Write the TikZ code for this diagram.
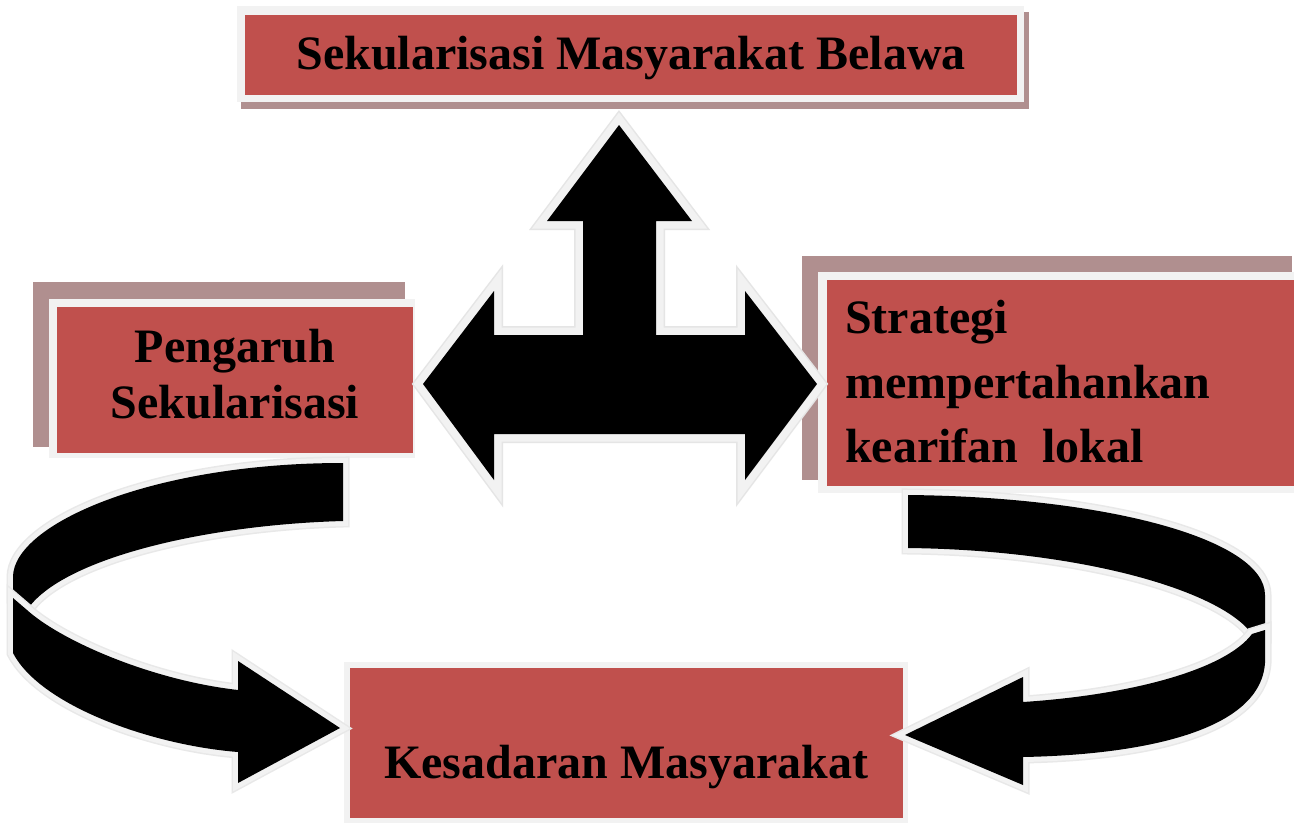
\documentclass[tikz,border=0pt]{standalone}
\usepackage{fontspec}
\setmainfont{Liberation Serif}
\definecolor{boxred}{HTML}{C0504D}
\definecolor{framegray}{HTML}{F2F2F2}
\definecolor{shadowbrown}{HTML}{B08F8F}
\tikzset{
  lbl/.style={font=\fontsize{48}{58}\selectfont\bfseries, text=black, inner sep=0pt},
  redfill/.style={fill=boxred},
  framefill/.style={fill=framegray},
  shadowfill/.style={fill=shadowbrown},
  tarrow/.style={fill=black, line join=miter, miter limit=4,
    preaction={draw=black!10, line width=18pt, line join=miter, miter limit=4},
    preaction={draw=framegray, line width=15pt, line join=miter, miter limit=4}},
  ribbon/.style={fill=black, line join=miter, miter limit=4,
    preaction={draw=black!9, line width=13pt, line join=miter, miter limit=4},
    preaction={draw=framegray, line width=10pt, line join=miter, miter limit=4}}
}
\begin{document}
\begin{tikzpicture}[x=1pt,y=-1pt]
\useasboundingbox (0,0) rectangle (1294,825);
\fill[white] (0,0) rectangle (1294,825);

% ---- top box
\fill[shadowfill] (241,12) rectangle (1029,109);
\fill[framefill] (237,6) rectangle (1024,102);
\fill[redfill] (245,15) rectangle (1017,95);
\node[lbl, anchor=base] (topbox) at (631,69) {Sekularisasi Masyarakat Belawa};

% ---- left box
\fill[shadowfill] (33,282) rectangle (405,447);
\fill[framefill] (49,299) rectangle (415,458);
\fill[redfill] (57,307) rectangle (413,453);
\node[lbl, anchor=base] (leftA) at (235,362) {Pengaruh};
\node[lbl, anchor=base] (leftB) at (235,418) {Sekularisasi};

% ---- right box
\fill[shadowfill] (802,256) rectangle (1292,480);
\fill[framefill] (818,272) rectangle (1294,493);
\fill[redfill] (827,280) rectangle (1294,486);
\node[lbl, anchor=base west] (rightA) at (845,333) {Strategi};
\node[lbl, anchor=base west] (rightB) at (845,398) {mempertahankan};
\node[lbl, anchor=base west] (rightC) at (845,462) {kearifan\ \ lokal};

% ---- bottom box
\fill[framefill] (344,662) rectangle (908,823);
\fill[redfill] (350,668) rectangle (903,818);
\node[lbl, anchor=base] (bottombox) at (626,778) {Kesadaran Masyarakat};

% ---- T-shaped three-way arrow
\path[tarrow] (619,125) -- (692,221) -- (656,221) -- (656,335) -- (745,335)
  -- (745,291) -- (817,384) -- (745,480) -- (745,434) -- (494,434)
  -- (494,480) -- (423,384) -- (494,291) -- (494,335) -- (583,335)
  -- (583,221) -- (547,221) -- cycle;

% ---- left curved arrow (back part, then front part)
\path[ribbon] (343,463) .. controls (150,463) and (13,525) .. (13,577)
  -- (13,600) -- (27,610) .. controls (60,560) and (200,525) .. (343,521) -- cycle;
\path[ribbon] (13,598) -- (13,653) .. controls (40,705) and (150,745) .. (238,752)
  -- (238,783) -- (340,728) -- (238,661) -- (238,690)
  .. controls (150,680) and (60,640) .. (27,610) -- cycle;

% ---- right curved arrow (back part, then front part)
\path[ribbon] (908,495) .. controls (1110,497) and (1265,540) .. (1265,595)
  -- (1265,636) -- (1252,634) .. controls (1220,590) and (1080,550) .. (908,548) -- cycle;
\path[ribbon] (1265,630) -- (1265,663) .. controls (1260,735) and (1130,755) .. (1023,757)
  -- (1023,785) -- (905,735) -- (1023,677) -- (1023,702)
  .. controls (1130,695) and (1225,670) .. (1252,634) -- cycle;
\end{tikzpicture}
\end{document}
